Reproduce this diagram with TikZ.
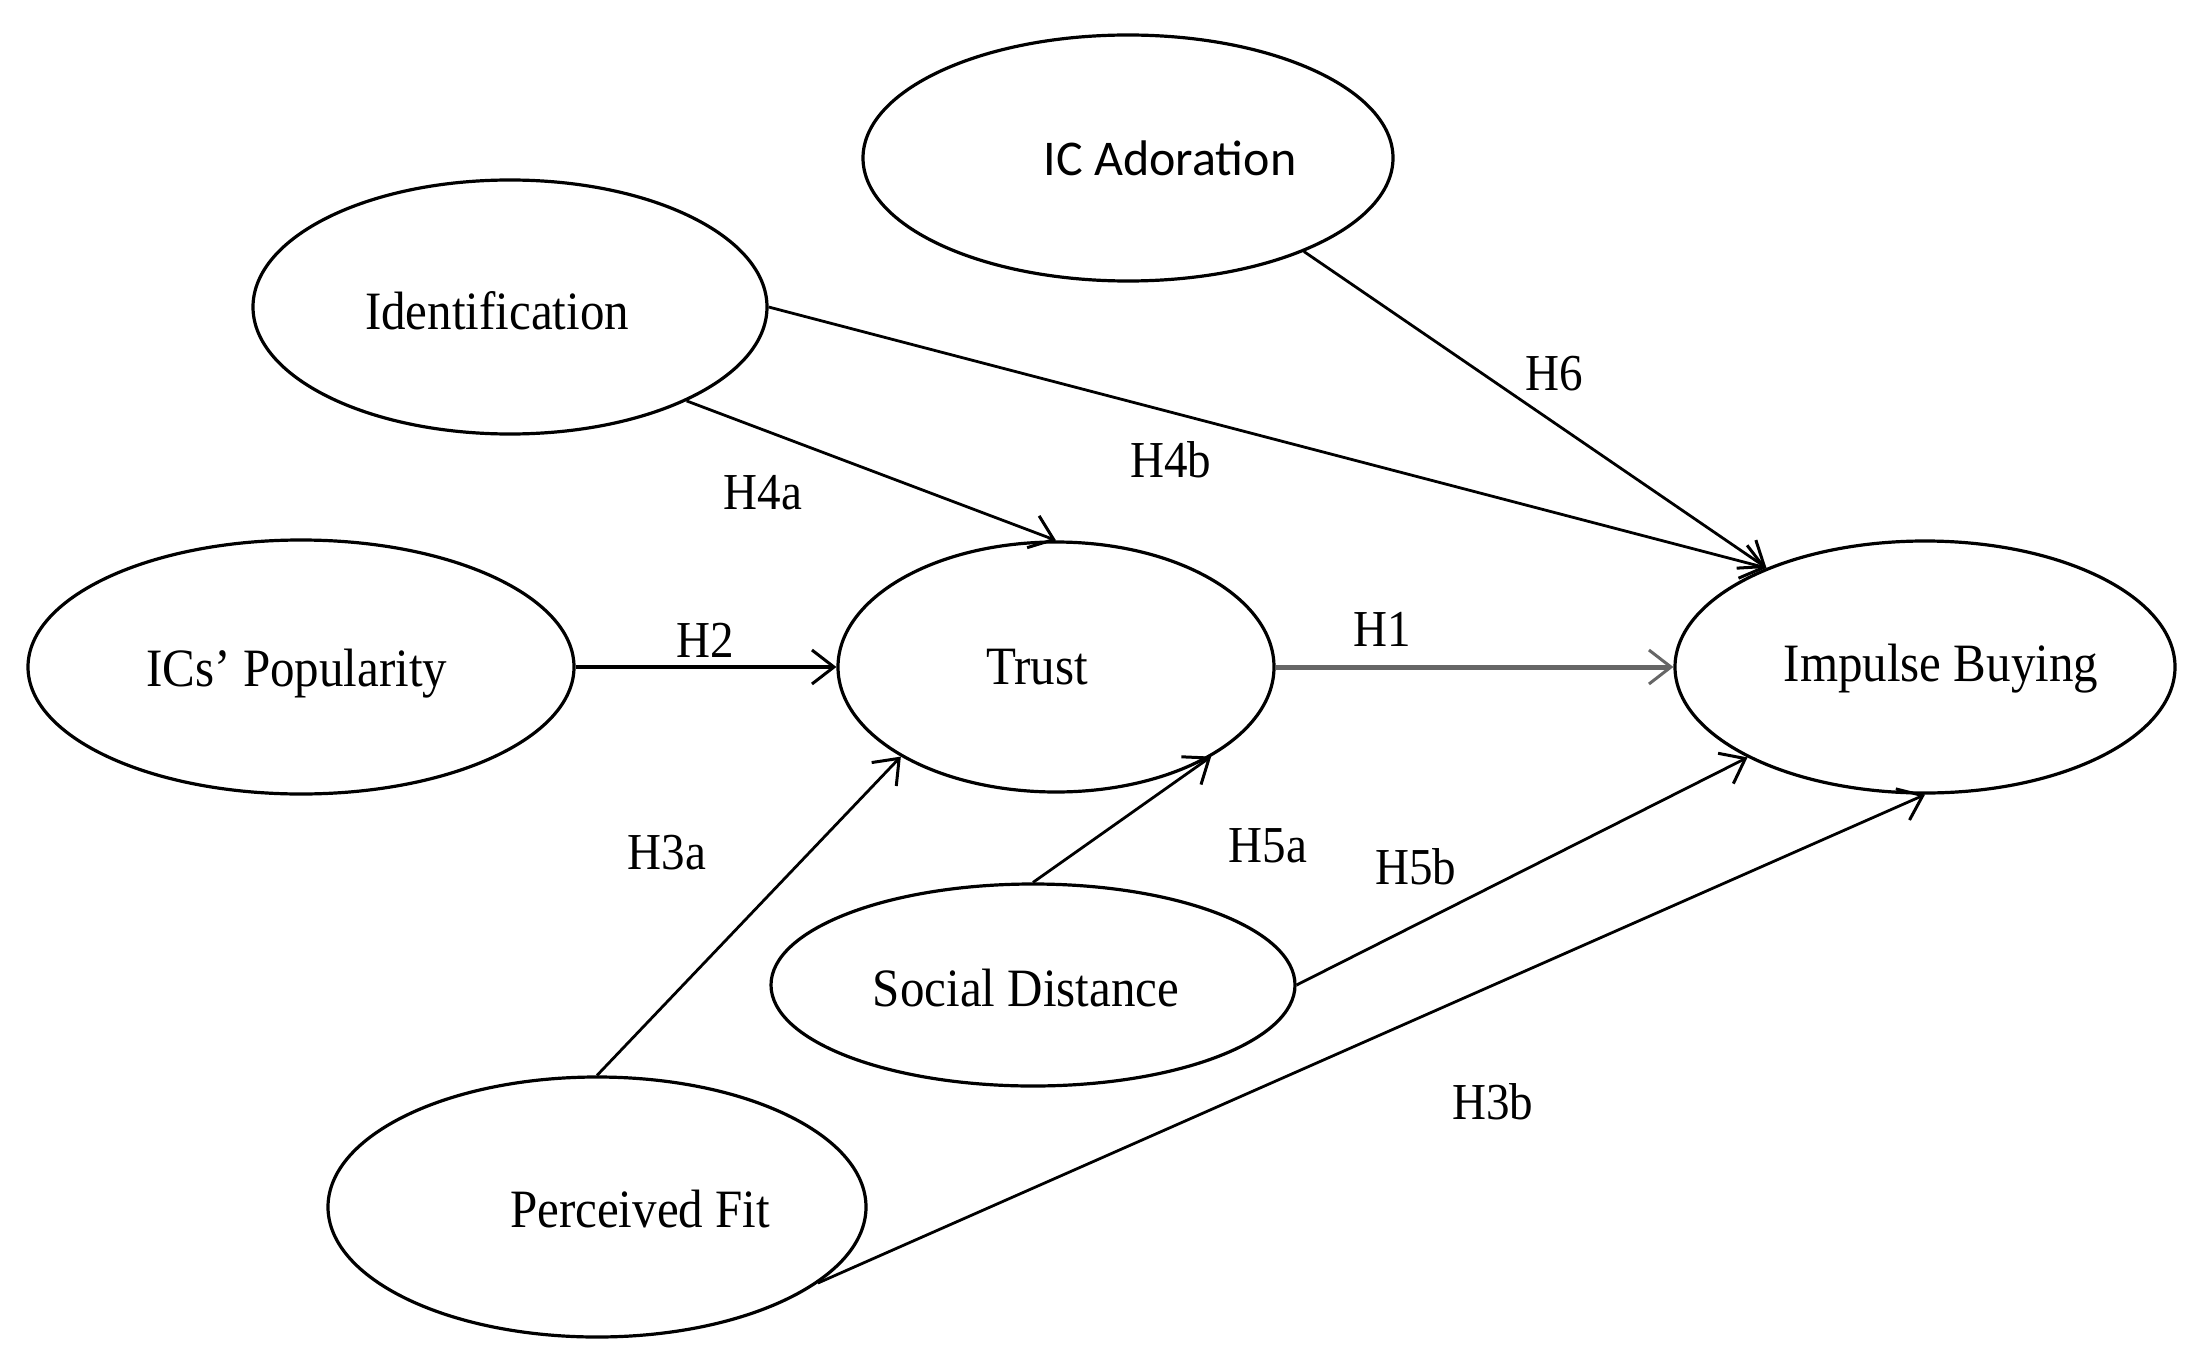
\documentclass[tikz,border=0pt]{standalone}
\usepackage{fontspec}
\usepackage{graphicx}
\setmainfont{Liberation Serif}
\newfontfamily\calib{Carlito}
\usetikzlibrary{shapes.geometric,arrows.meta}
\newcommand{\tallt}[1]{\scalebox{0.98}[1.08]{#1}}
\begin{document}
\begin{tikzpicture}[x=1pt,y=-1pt,
  lat/.style={ellipse, draw, line width=3.2pt, inner sep=0pt},
  txt/.style={font=\fontsize{50}{60}\selectfont, text=black},
  hyp/.style={font=\fontsize{48}{58}\selectfont, text=black, inner sep=0pt},
  arr/.style={line width=2.8pt, -{Straight Barb[length=22pt,width=34pt,line width=3pt]}},
]
\useasboundingbox (0,0) rectangle (2207,1364);

% latent constructs
\node[lat, minimum width=530pt, minimum height=246pt,
  label={[font=\fontsize{50}{60}\selectfont\calib, xshift=42pt]center:IC Adoration}] (adore) at (1128,158) {};
\node[lat, minimum width=514pt, minimum height=254pt,
  label={[txt, xshift=-13pt, yshift=-4pt]center:\tallt{Identification}}] (ident) at (510,307) {};
\node[lat, minimum width=546pt, minimum height=254pt,
  label={[txt, xshift=-4pt, yshift=-7pt]center:\tallt{ICs’ Popularity}}] (pop) at (301,667) {};
\node[lat, minimum width=436pt, minimum height=250pt,
  label={[txt, xshift=-19pt]center:\tallt{Trust}}] (trust) at (1056,667) {};
\node[lat, minimum width=500pt, minimum height=252pt,
  label={[txt, xshift=16pt, yshift=-2pt]center:\tallt{Impulse Buying}}] (imp) at (1925,667) {};
\node[lat, minimum width=524pt, minimum height=202pt,
  label={[txt, xshift=-7pt, yshift=-3pt]center:\tallt{Social Distance}}] (sd) at (1033,985) {};
\node[lat, minimum width=538pt, minimum height=260pt,
  label={[txt, xshift=43pt, yshift=-2pt]center:\tallt{Perceived Fit}}] (pf) at (597,1207) {};

% paths
\draw[arr] (adore.-28) -- (imp.148);
\draw[arr] (ident.east) -- (imp.148);
\draw[arr] (ident.-28) -- (trust.north);
\draw[arr, line width=4.2pt] (pop.east) -- (trust.west);
\draw[arr, line width=5pt, draw=black!60] (trust.east) -- (imp.west);
\draw[arr] (pf.north) -- (trust.210);
\draw[arr] (sd.north) -- (trust.-30);
\draw[arr] (sd.east) -- (imp.207);
\draw[arr] (pf.-19) -- (imp.south);

% hypothesis labels
\node[hyp] (h6)  at (1554,374) {\tallt{H6}};
\node[hyp] (h4b) at (1171,460) {\tallt{H4b}};
\node[hyp] (h4a) at (763,493) {\tallt{H4a}};
\node[hyp] (h2)  at (705,640) {\tallt{H2}};
\node[hyp] (h1)  at (1382,629) {\tallt{H1}};
\node[hyp] (h3a) at (667,853) {\tallt{H3a}};
\node[hyp] (h5a) at (1268,846) {\tallt{H5a}};
\node[hyp] (h5b) at (1416,867) {\tallt{H5b}};
\node[hyp] (h3b) at (1493,1102) {\tallt{H3b}};
\end{tikzpicture}
\end{document}
